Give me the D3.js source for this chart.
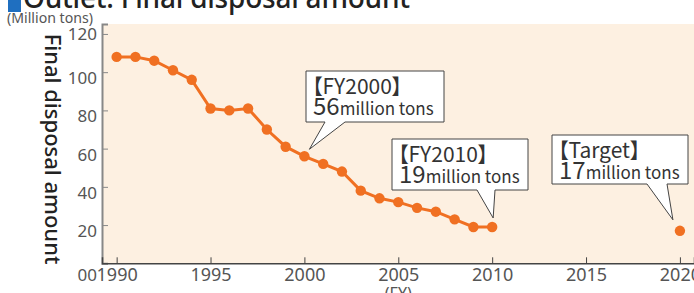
<!DOCTYPE html>
<html>
<head>
<meta charset="utf-8">
<script src="https://cdn.jsdelivr.net/npm/d3@7"></script>
<style>
  body { margin: 0; background: #fff; }
  svg { display: block; font-family: "Noto Sans", sans-serif; }
  .callout text { font-family: "Noto Sans CJK JP", "Noto Sans", sans-serif; font-feature-settings: "palt"; fill: #333; }
</style>
</head>
<body>
<div class="svg-container"></div>
<script>
// final disposal amount, million tons
var years = [1990, 1991, 1992, 1993, 1994, 1995, 1996, 1997, 1998, 1999, 2000,
             2001, 2002, 2003, 2004, 2005, 2006, 2007, 2008, 2009, 2010];
var amounts = [108, 108, 106, 101, 96, 81, 80, 81, 70, 61, 56,
               52, 48, 38, 34, 32, 29, 27, 23, 19, 19];
var targetYear = 2020;
var targetAmount = 17;

var xTicks = [1990, 1995, 2000, 2005, 2010, 2015, 2020];
var yTicks = [20, 40, 60, 80, 100, 120];
var originLabel = '00';

var calloutTitles = ['【FY2000】', '【FY2010】', '【Target】'];
var calloutNumbers = ['56', '19', '17'];
var calloutUnit = 'million tons';

var width = 694, height = 293;
var plot = { left: 102, right: 694, top: 24, bottom: 263.3 };

var svg = d3.select('.svg-container').append('svg')
  .attr('width', width)
  .attr('height', height);

var x = d3.scaleLinear()
  .domain([1989.22, 2020.75])
  .range([plot.left, plot.right]);

var y = d3.scaleLinear()
  .domain([0, 125.2])
  .range([plot.bottom, plot.top]);

// plot background
svg.append('rect')
  .attr('x', plot.left)
  .attr('y', plot.top)
  .attr('width', plot.right - plot.left)
  .attr('height', plot.bottom - plot.top)
  .attr('fill', '#fdf0e1');

// title (cut off at the top in the original)
svg.append('rect')
  .attr('x', 8).attr('y', -8)
  .attr('width', 13).attr('height', 20)
  .attr('fill', '#1f6fc0');
svg.append('text')
  .attr('x', 23).attr('y', 8)
  .style('font-size', '28px')
  .style('font-weight', 500)
  .attr('fill', '#222')
  .attr('textLength', 387)
  .text('Outlet: Final disposal amount');

svg.append('text')
  .attr('x', 7).attr('y', 23)
  .style('font-size', '14px')
  .attr('fill', '#555')
  .attr('textLength', 86)
  .attr('lengthAdjust', 'spacingAndGlyphs')
  .text('(Million tons)');

svg.append('text')
  .attr('transform', 'translate(45,' + 149 + ') rotate(90)')
  .attr('text-anchor', 'middle')
  .style('font-size', '22px')
  .style('font-weight', 500)
  .attr('fill', '#222')
  .text('Final disposal amount');

// axes
var yAxis = svg.append('g')
  .attr('transform', 'translate(' + plot.left + ',0)')
  .call(d3.axisLeft(y).tickValues(yTicks).tickSize(-6).tickPadding(5));
yAxis.select('.domain').attr('stroke', '#888').attr('stroke-width', 2);
yAxis.selectAll('.tick line').attr('stroke', '#888');
yAxis.selectAll('.tick text')
  .attr('dy', function (d) { return d === 120 ? '0.32em' : '0.68em'; })
  .style('font-size', '17px')
  .attr('fill', '#555')
  .style('font-family', '"Noto Sans", sans-serif');

var xAxis = svg.append('g')
  .attr('transform', 'translate(0,' + plot.bottom + ')')
  .call(d3.axisBottom(x).tickValues(xTicks).tickFormat(d3.format('d')).tickSize(-6).tickPadding(5));
xAxis.select('.domain').attr('stroke', '#444').attr('stroke-width', 1.5);
xAxis.selectAll('.tick line').attr('stroke', '#444');
xAxis.selectAll('.tick text')
  .style('font-size', '18px')
  .attr('fill', '#555')
  .style('font-family', '"Noto Sans", sans-serif');

svg.append('text')
  .attr('x', plot.left - 5).attr('y', plot.bottom + 18)
  .attr('text-anchor', 'end')
  .style('font-size', '17px')
  .attr('fill', '#555')
  .text(originLabel);

svg.append('text')
  .attr('x', x(2005)).attr('y', plot.bottom + 36)
  .attr('text-anchor', 'middle')
  .style('font-size', '16px')
  .attr('fill', '#555')
  .text('(FY)');

// line and dots
var data = years.map(function (yr, i) { return { year: yr, value: amounts[i] }; });
var orange = '#f07022';

svg.append('path')
  .datum(data)
  .attr('fill', 'none')
  .attr('stroke', orange)
  .attr('stroke-width', 3)
  .attr('d', d3.line()
    .x(function (d) { return x(d.year); })
    .y(function (d) { return y(d.value); }));

svg.selectAll('.dot')
  .data(data.concat([{ year: targetYear, value: targetAmount }]))
  .enter()
  .append('circle')
  .attr('class', 'dot')
  .attr('cx', function (d) { return x(d.year); })
  .attr('cy', function (d) { return y(d.value); })
  .attr('r', 5.2)
  .attr('fill', orange);

// callouts: box corners, tail base and tip offset from the point
var calloutLayout = [
  { year: 2000, value: 56, box: [306, 71, 444, 122], tail: [325, 345], tip: [5, -7] },
  { year: 2010, value: 19, box: [392, 139, 528, 190], tail: [477, 495], tip: [1, -9] },
  { year: targetYear, value: targetAmount, box: [552, 135, 688, 184], tail: [647, 667], tip: [-7, -11] }
];

var callouts = svg.selectAll('.callout')
  .data(calloutLayout)
  .enter()
  .append('g')
  .attr('class', 'callout');

callouts.append('path')
  .attr('fill', '#fff')
  .attr('stroke', '#444')
  .attr('stroke-width', 1)
  .attr('d', function (d) {
    var b = d.box;
    var tx = x(d.year) + d.tip[0], ty = y(d.value) + d.tip[1];
    return 'M' + b[0] + ',' + b[1] + 'H' + b[2] + 'V' + b[3] +
      'H' + d.tail[1] + 'L' + tx + ',' + ty + 'L' + d.tail[0] + ',' + b[3] +
      'H' + b[0] + 'Z';
  });

callouts.append('text')
  .attr('x', function (d) { return d.box[0] + 6; })
  .attr('y', function (d) { return d.box[1] + 23; })
  .style('font-size', '21px')
  .text(function (d, i) { return calloutTitles[i]; });

var line2 = callouts.append('text')
  .attr('x', function (d) { return d.box[0] + 7; })
  .attr('y', function (d) { return d.box[1] + 44; });
line2.append('tspan')
  .style('font-size', '24px')
  .text(function (d, i) { return calloutNumbers[i]; });
line2.append('tspan')
  .style('font-size', '17px')
  .text(calloutUnit);
</script>
</body>
</html>
